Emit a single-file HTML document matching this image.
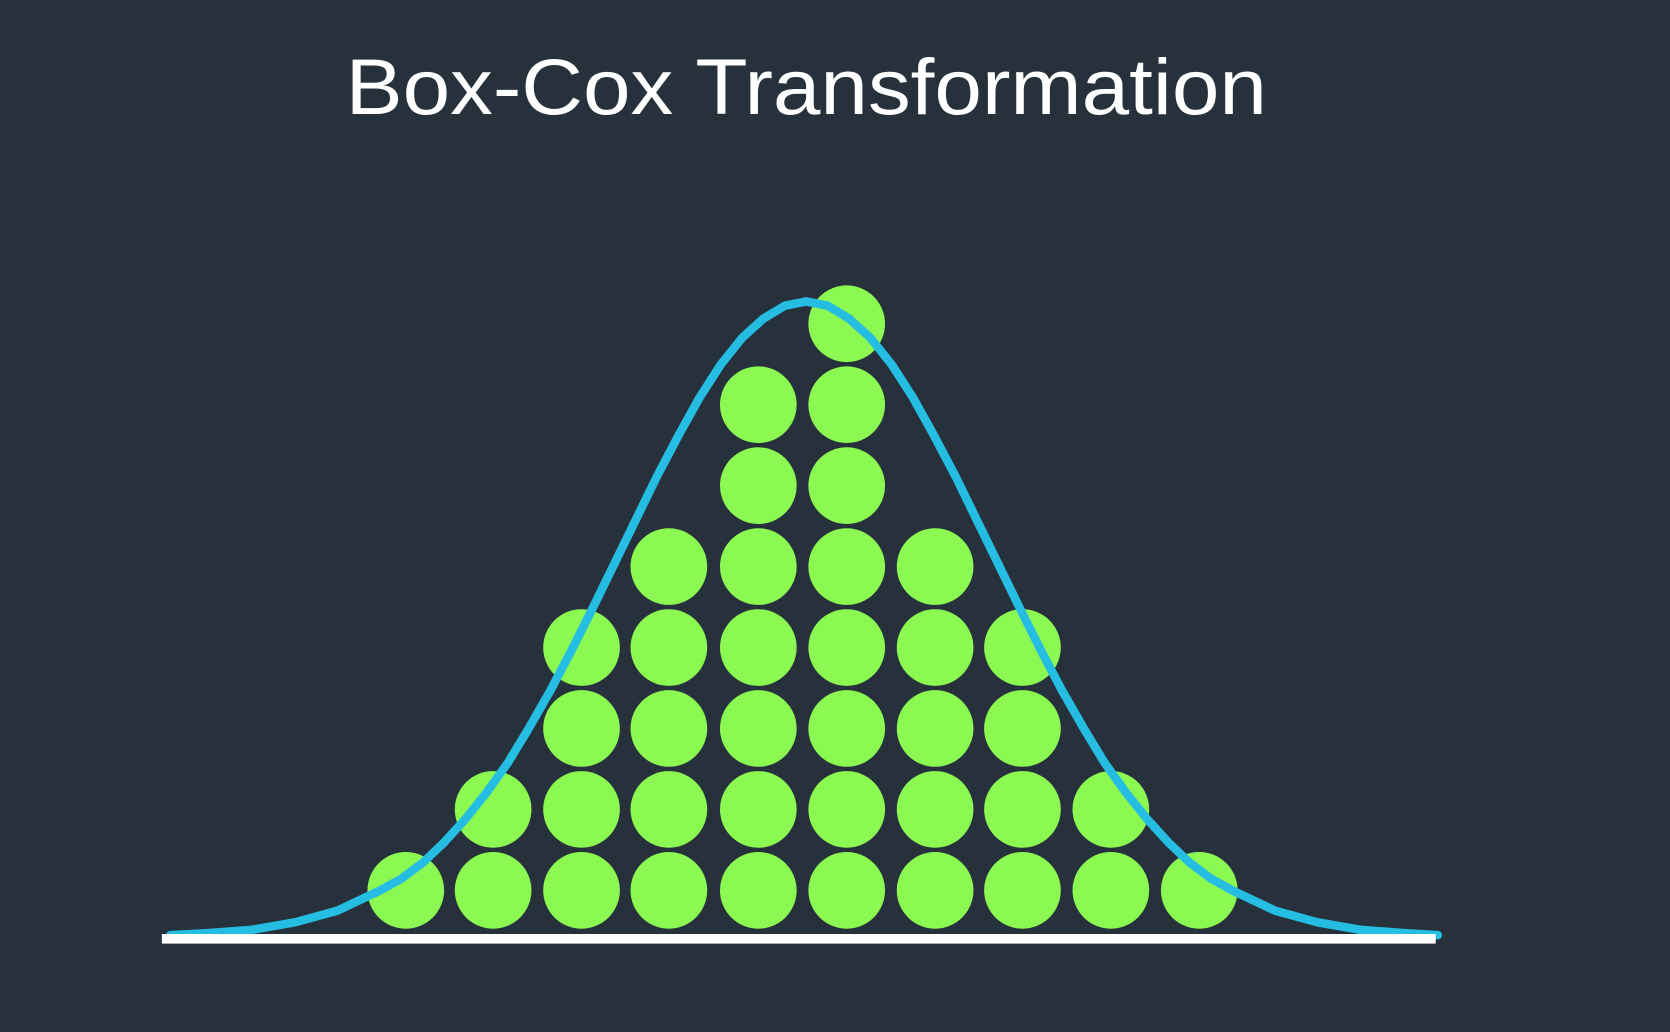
<!DOCTYPE html>
<html><head><meta charset="utf-8"><style>
html,body{margin:0;padding:0;background:#26313c;}
svg{display:block}
</style></head><body>
<svg width="1670" height="1032" viewBox="0 0 1568 969" preserveAspectRatio="none" xmlns="http://www.w3.org/2000/svg">
<rect width="1568" height="969" fill="#26313c"/>
<text x="757" y="107" text-anchor="middle" font-family="'Liberation Sans', sans-serif" font-size="74" fill="#ffffff" textLength="865" lengthAdjust="spacingAndGlyphs">Box-Cox Transformation</text>
<g fill="#8cf852">
<circle cx="381" cy="836" r="36"/>
<circle cx="463" cy="836" r="36"/><circle cx="463" cy="760" r="36"/>
<circle cx="546" cy="836" r="36"/><circle cx="546" cy="760" r="36"/><circle cx="546" cy="684" r="36"/><circle cx="546" cy="608" r="36"/>
<circle cx="628" cy="836" r="36"/><circle cx="628" cy="760" r="36"/><circle cx="628" cy="684" r="36"/><circle cx="628" cy="608" r="36"/><circle cx="628" cy="532" r="36"/>
<circle cx="712" cy="836" r="36"/><circle cx="712" cy="760" r="36"/><circle cx="712" cy="684" r="36"/><circle cx="712" cy="608" r="36"/><circle cx="712" cy="532" r="36"/><circle cx="712" cy="456" r="36"/><circle cx="712" cy="380" r="36"/>
<circle cx="795" cy="836" r="36"/><circle cx="795" cy="760" r="36"/><circle cx="795" cy="684" r="36"/><circle cx="795" cy="608" r="36"/><circle cx="795" cy="532" r="36"/><circle cx="795" cy="456" r="36"/><circle cx="795" cy="380" r="36"/><circle cx="795" cy="304" r="36"/>
<circle cx="878" cy="836" r="36"/><circle cx="878" cy="760" r="36"/><circle cx="878" cy="684" r="36"/><circle cx="878" cy="608" r="36"/><circle cx="878" cy="532" r="36"/>
<circle cx="960" cy="836" r="36"/><circle cx="960" cy="760" r="36"/><circle cx="960" cy="684" r="36"/><circle cx="960" cy="608" r="36"/>
<circle cx="1043" cy="836" r="36"/><circle cx="1043" cy="760" r="36"/>
<circle cx="1126" cy="836" r="36"/>
</g>
<polyline fill="none" stroke="#26bde2" stroke-width="8" stroke-linejoin="round" stroke-linecap="round"
points="160,878 197,876 237,873 277,866 317,855 357,836 377,825 397,810 417,791 437,769 457,744 477,716 497,683 517,648 537,610 557,570 577,529 597,488 617,447 637,409 657,373 677,342 697,317 717,299 737,287 757,283 777,287 797,299 817,317 837,342 857,373 877,409 897,447 917,488 937,529 957,570 977,610 997,648 1017,683 1037,716 1057,744 1077,769 1097,791 1117,810 1137,825 1157,836 1197,855 1237,866 1277,873 1317,876 1350,878"/>
<rect x="152" y="877" width="1196" height="9" fill="#ffffff"/>
</svg>
</body></html>
